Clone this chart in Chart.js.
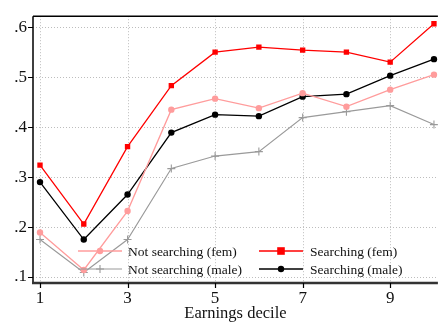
<!DOCTYPE html>
<html>
<head>
<meta charset="utf-8">
<script src="https://cdn.jsdelivr.net/npm/chart.js@4"></script>
<style>
  html, body { margin: 0; padding: 0; background: #fff; overflow: hidden; }
  #chart { display: block; }
</style>
</head>
<body>
<canvas id="chart" width="443" height="322"></canvas>
<script>
const deciles = [1, 2, 3, 4, 5, 6, 7, 8, 9, 10];
const xTicks = [1, 3, 5, 7, 9];
const yTicks = [0.1, 0.2, 0.3, 0.4, 0.5, 0.6];

const notSearchingFem = [0.189, 0.114, 0.232, 0.435, 0.457, 0.438, 0.468, 0.441, 0.475, 0.505];
const searchingFem = [0.324, 0.206, 0.361, 0.483, 0.550, 0.560, 0.554, 0.550, 0.530, 0.607];
const notSearchingMale = [0.175, 0.109, 0.175, 0.317, 0.342, 0.351, 0.419, 0.431, 0.443, 0.405];
const searchingMale = [0.290, 0.175, 0.265, 0.389, 0.425, 0.422, 0.461, 0.466, 0.503, 0.536];

const serif = '"Liberation Serif", "DejaVu Serif", serif';

function toPoints(vals) {
    return deciles.map((d, i) => ({ x: d, y: vals[i] }));
}

const series = [
    { label: 'Not searching (fem)', data: notSearchingFem, color: '#ff9c9c', style: 'circle', radius: 3.2, width: 1.3 },
    { label: 'Not searching (male)', data: notSearchingMale, color: '#9a9a9a', style: 'cross', radius: 4, width: 1.1 },
    { label: 'Searching (male)', data: searchingMale, color: '#000000', style: 'circle', radius: 3.2, width: 1.3 },
    { label: 'Searching (fem)', data: searchingFem, color: '#ff0000', style: 'rect', radius: 3.8, width: 1.3 }
];

// dotted grid under the lines; axes frame, tick marks and legend on top
const frame = {
    id: 'frame',
    beforeDatasetsDraw(chart) {
        const ctx = chart.ctx;
        const a = chart.chartArea;
        const xs = chart.scales.x, ys = chart.scales.y;
        ctx.save();
        ctx.strokeStyle = '#bdbdbd';
        ctx.lineWidth = 1;
        ctx.setLineDash([1, 2]);
        ctx.beginPath();
        yTicks.forEach(v => {
            const y = Math.round(ys.getPixelForValue(v)) + 0.5;
            ctx.moveTo(a.left, y); ctx.lineTo(a.right, y);
        });
        xTicks.forEach(v => {
            const x = Math.round(xs.getPixelForValue(v)) + 0.5;
            ctx.moveTo(x, a.top); ctx.lineTo(x, a.bottom);
        });
        ctx.stroke();
        ctx.restore();
    },
    afterDraw(chart) {
        const ctx = chart.ctx;
        const a = chart.chartArea;
        const xs = chart.scales.x, ys = chart.scales.y;
        ctx.save();
        ctx.strokeStyle = '#000';
        ctx.lineWidth = 1.5;
        ctx.beginPath();
        ctx.moveTo(a.left, a.top); ctx.lineTo(a.right, a.top);
        ctx.moveTo(a.left, a.top); ctx.lineTo(a.left, a.bottom);
        ctx.stroke();
        ctx.strokeStyle = '#333';
        ctx.lineWidth = 2.5;
        ctx.beginPath();
        ctx.moveTo(a.left - 1, a.bottom); ctx.lineTo(a.right, a.bottom);
        ctx.stroke();
        ctx.lineWidth = 1.2;
        ctx.strokeStyle = '#000';
        ctx.beginPath();
        yTicks.forEach(v => {
            const y = Math.round(ys.getPixelForValue(v)) + 0.5;
            ctx.moveTo(a.left - 5, y); ctx.lineTo(a.left, y);
        });
        xTicks.forEach(v => {
            const x = Math.round(xs.getPixelForValue(v)) + 0.5;
            ctx.moveTo(x, a.bottom); ctx.lineTo(x, a.bottom + 5);
        });
        ctx.stroke();

        // legend
        const rows = [251, 269];
        const cols = [{ x0: 78, x1: 122, tx: 128 }, { x0: 259, x1: 303, tx: 310 }];
        const order = [[0, 3], [1, 2]];
        ctx.font = '13.5px ' + serif;
        ctx.textBaseline = 'middle';
        order.forEach((row, r) => {
            row.forEach((si, c) => {
                const s = series[si];
                const col = cols[c];
                const y = rows[r];
                const mx = (col.x0 + col.x1) / 2;
                ctx.strokeStyle = s.color;
                ctx.lineWidth = s.width;
                ctx.beginPath();
                ctx.moveTo(col.x0, y); ctx.lineTo(col.x1, y);
                ctx.stroke();
                ctx.fillStyle = s.color;
                ctx.beginPath();
                if (s.style === 'cross') {
                    ctx.moveTo(mx - s.radius, y); ctx.lineTo(mx + s.radius, y);
                    ctx.moveTo(mx, y - s.radius); ctx.lineTo(mx, y + s.radius);
                    ctx.stroke();
                } else if (s.style === 'rect') {
                    ctx.rect(mx - s.radius, y - s.radius, s.radius * 2, s.radius * 2);
                    ctx.fill();
                } else {
                    ctx.arc(mx, y, s.radius, 0, Math.PI * 2);
                    ctx.fill();
                }
                ctx.fillStyle = '#111';
                ctx.fillText(s.label, col.tx, y + 1);
            });
        });
        ctx.restore();
    }
};

const ctx = document.getElementById('chart').getContext('2d');
new Chart(ctx, {
    type: 'line',
    data: {
        datasets: series.map(s => ({
            label: s.label,
            data: toPoints(s.data),
            borderColor: s.color,
            backgroundColor: s.color,
            borderWidth: s.width,
            pointStyle: s.style,
            pointRadius: s.radius,
            pointBorderWidth: s.style === 'cross' ? 1.1 : 0,
            pointBorderColor: s.color,
            pointBackgroundColor: s.color,
            tension: 0,
            fill: false
        }))
    },
    options: {
        responsive: false,
        animation: false,
        layout: { padding: { top: 12, right: 0, left: 0, bottom: 0 } },
        plugins: {
            legend: { display: false },
            tooltip: { enabled: false }
        },
        scales: {
            x: {
                type: 'linear',
                min: 0.84,
                max: 10.09,
                afterBuildTicks: axis => { axis.ticks = xTicks.map(v => ({ value: v })); },
                afterFit: axis => { axis.height = 39; },
                grid: { display: false, drawTicks: false },
                border: { display: false },
                ticks: {
                    color: '#111',
                    padding: 5,
                    font: { family: serif, size: 17 },
                    callback: v => String(v)
                },
                title: {
                    display: true,
                    text: 'Earnings decile',
                    color: '#111',
                    font: { family: serif, size: 16.5 },
                    padding: { top: 0, bottom: -2 }
                }
            },
            y: {
                min: 0.088,
                max: 0.622,
                afterBuildTicks: axis => { axis.ticks = yTicks.map(v => ({ value: v })); },
                afterFit: axis => { axis.width = 33; },
                grid: { display: false, drawTicks: false },
                border: { display: false },
                ticks: {
                    color: '#111',
                    padding: 6,
                    font: { family: serif, size: 17 },
                    callback: v => '.' + Math.round(v * 10)
                }
            }
        }
    },
    plugins: [frame]
});
</script>
</body>
</html>
